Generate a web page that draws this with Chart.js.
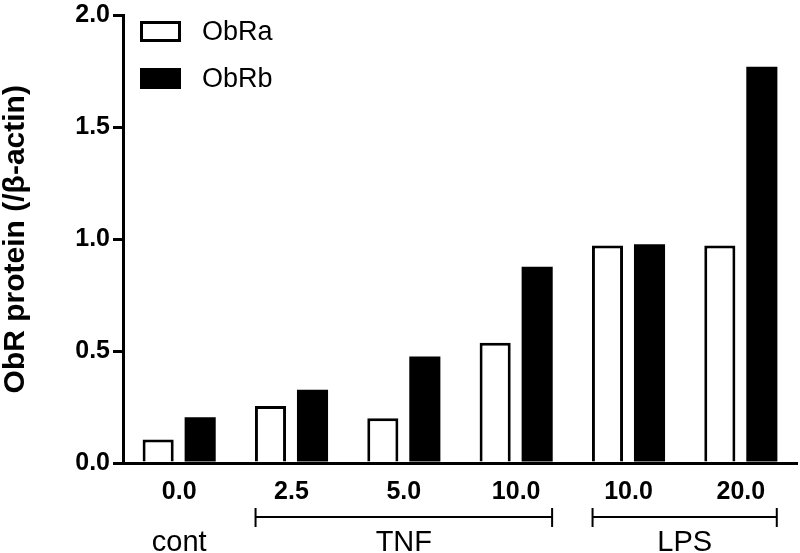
<!DOCTYPE html>
<html>
<head>
<meta charset="utf-8">
<script src="https://cdn.jsdelivr.net/npm/chart.js@4.4.0/dist/chart.umd.min.js"></script>
<style>
  html, body { margin: 0; padding: 0; background: #fff; }
  #wrap { width: 800px; height: 553px; }
</style>
</head>
<body>
<div id="wrap"><canvas id="grafico" width="800" height="553"></canvas></div>
<script>
// Dose labels under each pair of bars
const doses = ['0.0', '2.5', '5.0', '10.0', '10.0', '20.0'];

// ObR protein relative to beta-actin
const obraValues = [0.105, 0.255, 0.20, 0.537, 0.972, 0.972];
const obrbValues = [0.205, 0.327, 0.476, 0.877, 0.978, 1.771];

// Treatment groups (index of first and last dose in each group)
const groupNames = ['cont', 'TNF', 'LPS'];
const groupStart = [0, 1, 4];
const groupEnd = [0, 3, 5];

const yTicks = [0, 0.5, 1.0, 1.5, 2.0];

const FONT = "'Liberation Sans', Arial, Helvetica, sans-serif";

// Legend drawn inside the plot, top left
const legendInside = {
    id: 'legendInside',
    afterDraw(chart) {
        const ctx = chart.ctx;
        ctx.save();
        chart.data.datasets.forEach((ds, i) => {
            const y = 21 + i * 47;
            ctx.fillStyle = ds.backgroundColor;
            ctx.fillRect(140, y, 41, 21);
            ctx.lineWidth = 3;
            ctx.strokeStyle = '#000';
            ctx.strokeRect(141.5, y + 1.5, 38, 18);
            ctx.fillStyle = '#000';
            ctx.font = '27px ' + FONT;
            ctx.textBaseline = 'middle';
            ctx.textAlign = 'left';
            ctx.fillText(ds.label, 202, y + 12);
        });
        ctx.restore();
    }
};

// Group brackets and names below the dose labels
const groupLabels = {
    id: 'groupLabels',
    afterDraw(chart) {
        const ctx = chart.ctx;
        const x = chart.scales.x;
        const half = x.getPixelForValue(1) - x.getPixelForValue(0);
        ctx.save();
        ctx.strokeStyle = '#000';
        ctx.fillStyle = '#000';
        ctx.lineWidth = 2;
        groupNames.forEach((name, i) => {
            const x0 = x.getPixelForValue(groupStart[i]) - half * 0.32;
            const x1 = x.getPixelForValue(groupEnd[i]) + half * 0.32;
            if (groupEnd[i] > groupStart[i]) {
                ctx.beginPath();
                ctx.moveTo(x0, 517);
                ctx.lineTo(x1, 517);
                ctx.moveTo(x0, 508);
                ctx.lineTo(x0, 527);
                ctx.moveTo(x1, 508);
                ctx.lineTo(x1, 527);
                ctx.stroke();
            }
            ctx.font = '29px ' + FONT;
            ctx.textAlign = 'center';
            ctx.textBaseline = 'alphabetic';
            ctx.fillText(name, (x0 + x1) / 2, 551);
        });
        ctx.restore();
    }
};

new Chart(document.getElementById('grafico').getContext('2d'), {
    type: 'bar',
    data: {
        labels: doses,
        datasets: [{
            label: 'ObRa',
            data: obraValues,
            backgroundColor: '#ffffff',
            borderColor: '#000000',
            borderWidth: 3,
            borderSkipped: 'start'
        }, {
            label: 'ObRb',
            data: obrbValues,
            backgroundColor: '#000000',
            borderColor: '#000000',
            borderWidth: 0
        }]
    },
    options: {
        responsive: false,
        animation: false,
        events: [],
        datasets: {
            bar: {
                categoryPercentage: 0.748,
                barPercentage: 0.74
            }
        },
        layout: {
            autoPadding: false,
            padding: { top: 11, right: 3, left: 0, bottom: 0 }
        },
        plugins: {
            legend: { display: false },
            tooltip: { enabled: false }
        },
        scales: {
            x: {
                offset: true,
                grid: { display: false, drawTicks: false },
                border: { display: true, width: 3, color: '#000' },
                ticks: {
                    color: '#000',
                    padding: 14,
                    font: { family: FONT, size: 25, weight: 'bold' }
                },
                afterFit(scale) { scale.height = 90; }
            },
            y: {
                min: 0,
                max: 2.0,
                afterBuildTicks(scale) {
                    scale.ticks = yTicks.map(v => ({ value: v }));
                },
                grid: {
                    display: true,
                    drawOnChartArea: false,
                    drawTicks: true,
                    tickLength: 10,
                    lineWidth: 3,
                    color: '#000'
                },
                border: { display: true, width: 3, color: '#000' },
                ticks: {
                    color: '#000',
                    padding: 3,
                    font: { family: FONT, size: 25, weight: 'bold', lineHeight: 1 },
                    callback: v => v.toFixed(1)
                },
                title: {
                    display: true,
                    text: 'ObR protein (/β-actin)',
                    color: '#000',
                    padding: { top: 1, bottom: 0 },
                    font: { family: FONT, size: 30, weight: 'bold', lineHeight: 1 }
                },
                afterFit(scale) { scale.width = 123; }
            }
        }
    },
    plugins: [legendInside, groupLabels]
});
</script>
</body>
</html>
